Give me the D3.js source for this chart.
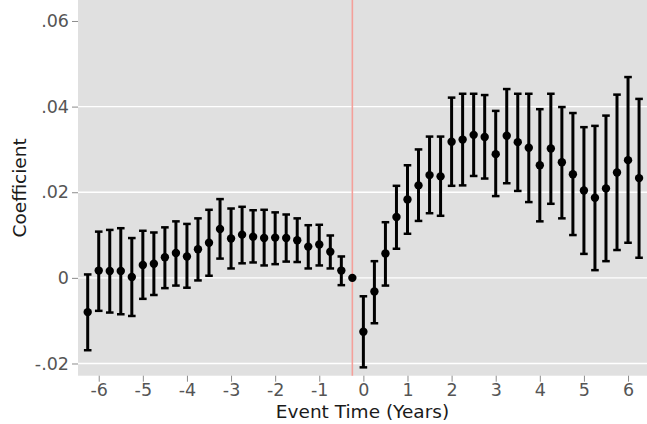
<!DOCTYPE html>
<html><head><meta charset="utf-8">
<script src="https://cdn.jsdelivr.net/npm/d3@7"></script>
<style>body{margin:0;background:#fff}svg{display:block}</style>
</head><body>
<svg id="c" width="647" height="424"></svg>
<script>
const eventTime = [-6.25,-6,-5.75,-5.5,-5.25,-5,-4.75,-4.5,-4.25,-4,-3.75,-3.5,-3.25,-3,-2.75,-2.5,-2.25,-2,-1.75,-1.5,-1.25,-1,-0.75,-0.5,-0.25,0,0.25,0.5,0.75,1,1.25,1.5,1.75,2,2.25,2.5,2.75,3,3.25,3.5,3.75,4,4.25,4.5,4.75,5,5.25,5.5,5.75,6,6.25];
const coef = [-0.0080,0.0017,0.0016,0.0016,0.0002,0.0030,0.0033,0.0048,0.0058,0.0050,0.0067,0.0082,0.0114,0.0092,0.0101,0.0096,0.0093,0.0094,0.0093,0.0088,0.0073,0.0078,0.0061,0.0017,0.0000,-0.0126,-0.0032,0.0057,0.0142,0.0183,0.0216,0.0240,0.0237,0.0318,0.0323,0.0334,0.0329,0.0289,0.0332,0.0317,0.0304,0.0263,0.0302,0.0270,0.0242,0.0204,0.0187,0.0209,0.0246,0.0275,0.0233];
const ciLow = [-0.0169,-0.0077,-0.0081,-0.0085,-0.0089,-0.0049,-0.0040,-0.0024,-0.0018,-0.0023,-0.0006,0.0005,0.0045,0.0022,0.0034,0.0036,0.0029,0.0032,0.0038,0.0037,0.0022,0.0029,0.0022,-0.0017,null,-0.0209,-0.0106,-0.0018,0.0068,0.0103,0.0133,0.0151,0.0145,0.0215,0.0216,0.0238,0.0232,0.0191,0.0221,0.0203,0.0177,0.0132,0.0173,0.0139,0.0100,0.0056,0.0018,0.0039,0.0065,0.0082,0.0047];
const ciHigh = [0.0008,0.0108,0.0112,0.0116,0.0093,0.0110,0.0106,0.0118,0.0132,0.0126,0.0139,0.0159,0.0184,0.0162,0.0166,0.0158,0.0159,0.0153,0.0148,0.0139,0.0123,0.0124,0.0099,0.0050,null,-0.0043,0.0039,0.0130,0.0215,0.0263,0.0300,0.0330,0.0330,0.0421,0.0430,0.0430,0.0427,0.0390,0.0441,0.0430,0.0430,0.0394,0.0430,0.0399,0.0385,0.0352,0.0355,0.0379,0.0428,0.0469,0.0418];
const xTicks = [-6,-5,-4,-3,-2,-1,0,1,2,3,4,5,6];
const yTicks = [-0.02,0,0.02,0.04,0.06];
const yTickLabels = ["-.02","0",".02",".04",".06"];
const refLine = -0.25;

const svg = d3.select("#c");
const L = 78, R = 647, T = 0, B = 375.7;
const x = d3.scaleLinear().domain([-6.47, 6.43]).range([L, R]);
const y = d3.scaleLinear().domain([-0.02285, 0.0649]).range([B, T]);

svg.append("rect").attr("x", L).attr("y", T).attr("width", R - L).attr("height", B - T).attr("fill", "#e0e0e0");

svg.append("g").selectAll("line").data(yTicks.filter(v => v < 0.05)).join("line")
  .attr("x1", L).attr("x2", R).attr("y1", d => y(d)).attr("y2", d => y(d))
  .attr("stroke", "#fff").attr("stroke-width", 1.4);

const fontFam = "'DejaVu Sans', sans-serif";
const yAxis = svg.append("g").attr("transform", `translate(${L},0)`)
  .call(d3.axisLeft(y).tickValues(yTicks).tickFormat((d, i) => yTickLabels[i]).tickSize(6).tickPadding(3));
const xAxis = svg.append("g").attr("transform", `translate(0,${B})`)
  .call(d3.axisBottom(x).tickValues(xTicks).tickFormat(d => d).tickSize(6).tickPadding(2));
[yAxis, xAxis].forEach(g => {
  g.select(".domain").remove();
  g.selectAll(".tick line").attr("stroke", "#8c8c8c").attr("stroke-width", 1);
  g.selectAll(".tick text").attr("fill", "#555").attr("font-size", 17.5).attr("font-family", fontFam);
});

svg.append("line").attr("x1", x(refLine)).attr("x2", x(refLine)).attr("y1", T).attr("y2", B)
  .attr("stroke", "#f4a09a").attr("stroke-width", 1.6);

const data = eventTime.map((t, i) => ({t, c: coef[i], lo: ciLow[i], hi: ciHigh[i]}));
const ci = data.filter(d => d.lo !== null);
const g = svg.append("g");
g.selectAll("line.bar").data(ci).join("line").attr("class", "bar")
  .attr("x1", d => x(d.t)).attr("x2", d => x(d.t)).attr("y1", d => y(d.lo)).attr("y2", d => y(d.hi))
  .attr("stroke", "#000").attr("stroke-width", 3);
["lo", "hi"].forEach(k => {
  g.selectAll("line.cap" + k).data(ci).join("line").attr("class", "cap" + k)
    .attr("x1", d => x(d.t) - 3.8).attr("x2", d => x(d.t) + 3.8).attr("y1", d => y(d[k])).attr("y2", d => y(d[k]))
    .attr("stroke", "#000").attr("stroke-width", 2.5);
});
g.selectAll("circle").data(data).join("circle")
  .attr("cx", d => x(d.t)).attr("cy", d => y(d.c)).attr("r", 4.2).attr("fill", "#000");

svg.append("text").attr("x", (L + R) / 2).attr("y", 418).attr("text-anchor", "middle")
  .attr("font-family", fontFam).attr("font-size", 18.5).attr("fill", "#1a1a1a").text("Event Time (Years)");
svg.append("text").attr("transform", `translate(26,${(T + B) / 2}) rotate(-90)`).attr("text-anchor", "middle")
  .attr("font-family", fontFam).attr("font-size", 18.5).attr("fill", "#1a1a1a").text("Coefficient");
</script>
</body></html>
